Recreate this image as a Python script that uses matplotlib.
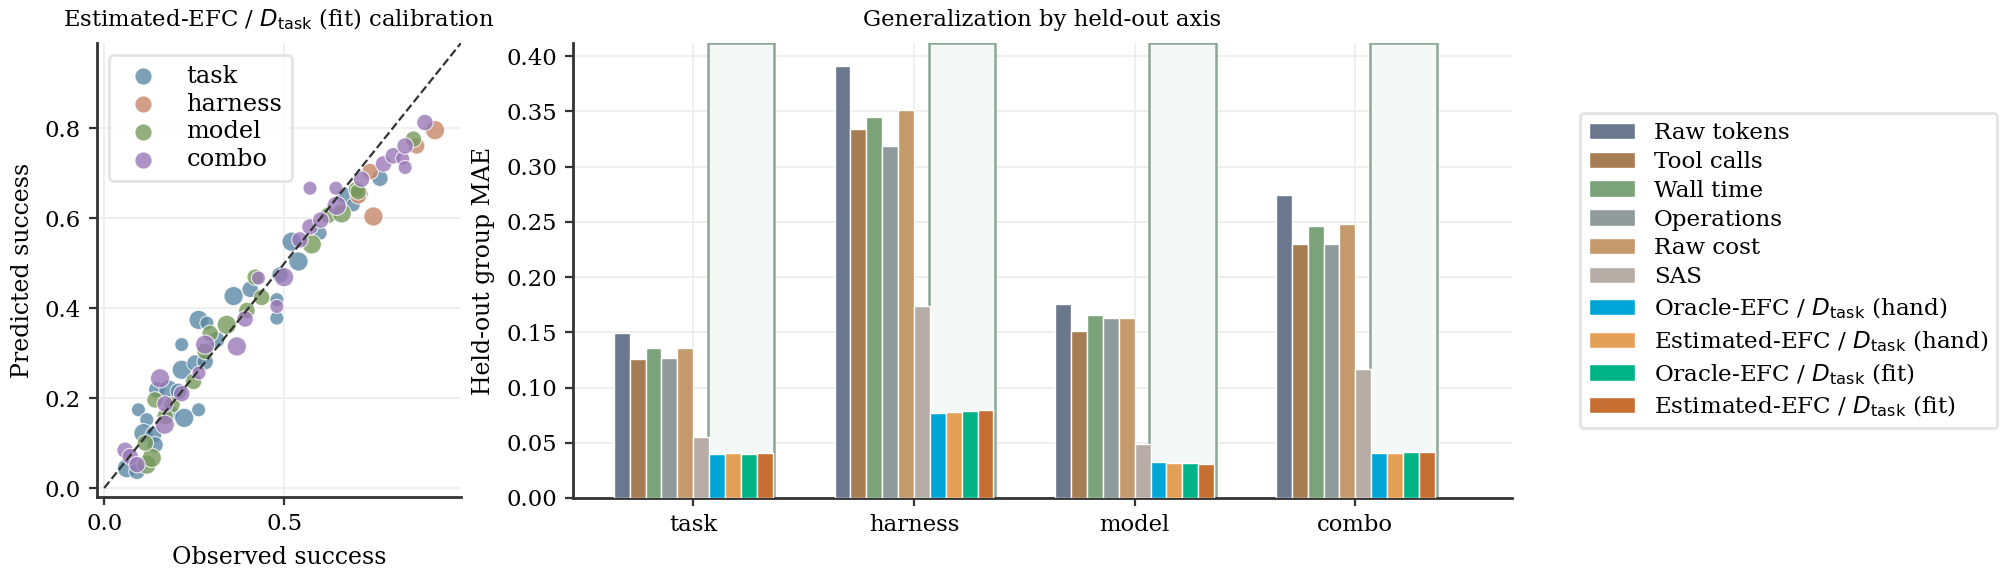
import numpy as np
import matplotlib
matplotlib.use("Agg")
import matplotlib.pyplot as plt

plt.rcParams['font.family'] = ['DejaVu Serif']
plt.rcParams['mathtext.fontset'] = 'dejavusans'
plt.rcParams['font.size'] = 8

# ---------------- data: bar chart ----------------
axes_groups = ["task", "harness", "model", "combo"]
methods = ["Raw tokens", "Tool calls", "Wall time", "Operations", "Raw cost", "SAS",
           r"Oracle-EFC / $D_{\rm task}$ (hand)", r"Estimated-EFC / $D_{\rm task}$ (hand)",
           r"Oracle-EFC / $D_{\rm task}$ (fit)", r"Estimated-EFC / $D_{\rm task}$ (fit)"]
mae_raw_tokens = [0.149, 0.391, 0.176, 0.274]
mae_tool_calls = [0.126, 0.334, 0.151, 0.230]
mae_wall_time = [0.136, 0.345, 0.166, 0.246]
mae_operations = [0.127, 0.319, 0.163, 0.230]
mae_raw_cost = [0.136, 0.351, 0.163, 0.248]
mae_sas = [0.055, 0.174, 0.049, 0.117]
mae_oracle_hand = [0.040, 0.077, 0.033, 0.041]
mae_est_hand = [0.041, 0.078, 0.032, 0.041]
mae_oracle_fit = [0.040, 0.079, 0.032, 0.042]
mae_est_fit = [0.041, 0.080, 0.031, 0.042]
bar_colors = ["#6b778c", "#a67c52", "#7aa379", "#8f9a9b", "#c4996b", "#b7ada6",
              "#00a5d7", "#e5a058", "#00b386", "#c76e33"]

# ---------------- data: scatter ----------------
task_obs = [0.063, 0.091, 0.095, 0.118, 0.109, 0.137, 0.141, 0.146, 0.178, 0.183, 0.222, 0.215,
            0.215, 0.252, 0.280, 0.262, 0.262, 0.285, 0.312, 0.206, 0.359, 0.405, 0.479, 0.479,
            0.488, 0.520, 0.539, 0.599, 0.668, 0.691, 0.765]
task_pred = [0.044, 0.037, 0.174, 0.152, 0.122, 0.119, 0.096, 0.219, 0.219, 0.167, 0.156, 0.319,
             0.263, 0.278, 0.281, 0.174, 0.374, 0.367, 0.330, 0.215, 0.427, 0.442, 0.419, 0.378,
             0.474, 0.548, 0.504, 0.567, 0.650, 0.630, 0.689]
task_size = [150, 110, 80, 80, 150, 110, 110, 110, 150, 110, 150, 80,
             150, 110, 110, 80, 150, 80, 110, 110, 150, 110, 80, 80,
             110, 150, 150, 80, 110, 80, 110]
harness_obs = [0.747, 0.738, 0.710, 0.705, 0.867, 0.918]
harness_pred = [0.604, 0.704, 0.654, 0.650, 0.761, 0.796]
harness_size = [150, 110, 110, 110, 110, 150]
model_obs = [0.118, 0.132, 0.114, 0.141, 0.188, 0.169, 0.248, 0.280, 0.294, 0.340, 0.396,
             0.419, 0.437, 0.576, 0.622, 0.659, 0.700, 0.705, 0.858]
model_pred = [0.052, 0.067, 0.100, 0.196, 0.185, 0.159, 0.237, 0.304, 0.344, 0.363, 0.395,
              0.469, 0.424, 0.542, 0.607, 0.611, 0.664, 0.659, 0.776]
model_size = [150, 150, 110, 110, 110, 110, 110, 110, 110, 150, 110,
              110, 110, 150, 110, 150, 110, 110, 110]
combo_obs = [0.058, 0.072, 0.091, 0.155, 0.169, 0.168, 0.215, 0.263, 0.280, 0.368, 0.391,
             0.428, 0.479, 0.499, 0.543, 0.571, 0.601, 0.571, 0.643, 0.645, 0.714, 0.775,
             0.802, 0.828, 0.835, 0.835, 0.890]
combo_pred = [0.084, 0.070, 0.052, 0.244, 0.187, 0.141, 0.210, 0.256, 0.319, 0.315, 0.376,
              0.467, 0.404, 0.469, 0.552, 0.581, 0.596, 0.667, 0.667, 0.628, 0.687, 0.721,
              0.739, 0.733, 0.713, 0.761, 0.813]
combo_size = [110, 110, 110, 150, 110, 150, 110, 80, 150, 150, 110,
              80, 80, 150, 110, 110, 110, 80, 80, 150, 110, 110,
              110, 80, 80, 110, 110]
scatter_groups = ["task", "harness", "model", "combo"]
scatter_colors = ["#5a88a5", "#c6866a", "#789a5c", "#9a78b8"]

# ---------------- figure ----------------
fig = plt.figure(figsize=(10, 2.9), dpi=200)
W, H = 2000, 580
ax1 = fig.add_axes([97 / W, 1 - 497 / H, (461 - 97) / W, (497 - 43) / H])
ax2 = fig.add_axes([573 / W, 1 - 498 / H, (1512 - 573) / W, (498 - 43) / H])

spine_col = "#333333"
grid_col = "#ececec"
LBL = 8.5
TTL = 8.2
for ax in (ax1, ax2):
    for s in ("top", "right"):
        ax.spines[s].set_visible(False)
    for s in ("left", "bottom"):
        ax.spines[s].set_color(spine_col)
        ax.spines[s].set_linewidth(1.0)
    ax.tick_params(colors=spine_col, labelcolor="black", width=0.8, length=2.8, pad=3,
                   labelsize=8.2)
    ax.grid(True, color=grid_col, linewidth=0.6)
    ax.set_axisbelow(True)

# scatter
xs = [task_obs, harness_obs, model_obs, combo_obs]
ys = [task_pred, harness_pred, model_pred, combo_pred]
ss = [task_size, harness_size, model_size, combo_size]
for name, x, y, s, c in zip(scatter_groups, xs, ys, ss, scatter_colors):
    ax1.scatter(x, y, s=np.array(s) * 0.32, color=c, alpha=0.8, edgecolor="white",
                linewidth=0.4, label=name, zorder=3)
ax1.plot([0, 1], [0, 1], ls="--", color="#333333", lw=0.8, zorder=4)
ax1.set_xlim(-0.02, 0.99)
ax1.set_ylim(-0.02, 0.99)
ax1.set_xticks([0.0, 0.5])
ax1.set_yticks([0.0, 0.2, 0.4, 0.6, 0.8])
ax1.set_xlabel("Observed success", fontsize=LBL)
ax1.set_ylabel("Predicted success", fontsize=LBL)
ax1.set_title(r"Estimated-EFC / $D_{\rm task}$ (fit) calibration", fontsize=TTL)
leg1 = ax1.legend(loc="upper left", frameon=True, fontsize=8.7, labelspacing=0.2)
for h in leg1.legend_handles:
    h.set_sizes([38])
leg1.get_frame().set_edgecolor("#dddddd")

# bars
series = [mae_raw_tokens, mae_tool_calls, mae_wall_time, mae_operations, mae_raw_cost,
          mae_sas, mae_oracle_hand, mae_est_hand, mae_oracle_fit, mae_est_fit]
n = len(series)
bw = 0.072
xc = np.arange(len(axes_groups))
for i, (vals, lab, col) in enumerate(zip(series, methods, bar_colors)):
    pos = xc - n * bw / 2 + bw * (i + 0.5)
    ax2.bar(pos, vals, width=bw, color=col, edgecolor="white", linewidth=0.5,
            label=lab, zorder=3)
for g in xc:
    left = g - n * bw / 2 + bw * 6 - 0.005
    right = g + n * bw / 2 + 0.008
    ax2.axvspan(left, right, facecolor="#f4f8f6", edgecolor="#8aa895", linewidth=0.9,
                zorder=1)
ax2.set_xticks(xc)
ax2.set_xticklabels(axes_groups)
ax2.set_xlim(-0.545, 3.71)
ax2.set_ylim(0, 0.412)
ax2.set_yticks(np.arange(0, 0.401, 0.05))
ax2.set_yticklabels([f"{v:.2f}" for v in np.arange(0, 0.401, 0.05)])
ax2.set_ylabel("Held-out group MAE", fontsize=LBL)
ax2.set_title("Generalization by held-out axis", fontsize=TTL)
leg2 = ax2.legend(loc="center left", bbox_to_anchor=(1.06, 0.5), frameon=True,
                  fontsize=8.3, labelspacing=0.3)
leg2.get_frame().set_edgecolor("#dddddd")

fig.savefig("out.png", dpi=200)
